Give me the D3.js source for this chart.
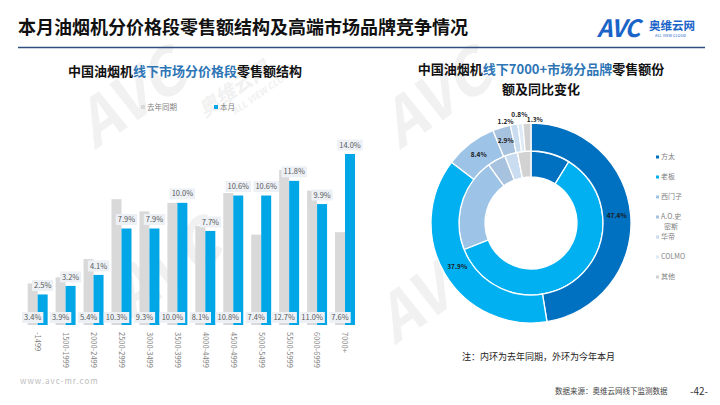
<!DOCTYPE html>
<html><head><meta charset="utf-8">
<script src="https://cdn.jsdelivr.net/npm/d3@7"></script>
<style>
body{margin:0;background:#fff}
svg{display:block;font-family:"Noto Sans CJK SC","Noto Sans",sans-serif}
</style>
</head><body>
<svg id="c" width="720" height="405"></svg>
<script>
const categories = ["-1499","1500-1999","2000-2499","2500-2999","3000-3499","3500-3999","4000-4499","4500-4999","5000-5499","5500-5999","6000-6999","7000+"];
const lastYear = [3.4,3.9,5.4,10.3,9.3,10.0,8.1,10.8,7.4,12.7,11.0,7.6];
const thisMonth = [2.5,3.2,4.1,7.9,7.9,10.0,7.7,10.6,10.6,11.8,9.9,14.0];
const seriesNames = ["去年同期","本月"];
const brands = ["方太","老板","西门子","A.O.史密斯","华帝","COLMO","其他"];
const outerShare = [47.4,37.9,8.4,2.9,1.2,0.8,1.3];
const innerShare = [8.8,60.2,21.0,4.1,2.9,0,3.0];

const svg = d3.select("#c");
const fmt = d3.format(".1f");

// watermarks
const wm = svg.append("g").attr("fill","#F1F1F1").style("font-style","italic").style("font-weight","bold");
[[95,150],[400,150],[395,345],[130,320]].forEach(p=>{
  wm.append("text").attr("transform",`translate(${p[0]},${p[1]}) rotate(-35)`).attr("font-size",62).text("AVC");
});
wm.append("text").attr("transform","translate(205,118) rotate(-35)").attr("font-size",20).text("奥维云网");
wm.append("text").attr("transform","translate(235,115) rotate(-35)").attr("font-size",9).text("ALL VIEW CLOUD");

// header
svg.append("text").attr("x",18).attr("y",34).attr("font-size",18).attr("font-weight","bold").attr("fill","#111")
  .text("本月油烟机分价格段零售额结构及高端市场品牌竞争情况");
svg.append("line").attr("x1",18).attr("x2",705).attr("y1",47.5).attr("y2",47.5).attr("stroke","#2F4F7F").attr("stroke-width",1.5);
// logo
svg.append("text").attr("x",597).attr("y",37).attr("font-size",24).attr("font-weight","bold").attr("fill","#1A64C8").style("font-style","italic").attr("letter-spacing",-1).text("AVC");
svg.append("text").attr("x",649).attr("y",30).attr("font-size",11.5).attr("font-weight","bold").attr("fill","#1A64C8").text("奥维云网");
svg.append("text").attr("x",655).attr("y",37).attr("font-size",4).attr("fill","#1A64C8").text("ALL VIEW CLOUD");

// left title
const lt = svg.append("text").attr("x",185).attr("y",76).attr("text-anchor","middle").attr("font-size",13).attr("font-weight","bold").attr("fill","#111");
lt.append("tspan").text("中国油烟机");
lt.append("tspan").attr("fill","#2E75B6").text("线下市场分价格段");
lt.append("tspan").text("零售额结构");

// legend left
const legColors = ["#D9D9D9","#00A6E6"];
const legX = d3.scaleOrdinal().domain(seriesNames).range([141,214]);
seriesNames.forEach((s,i)=>{
  svg.append("rect").attr("x",legX(s)).attr("y",105).attr("width",4).attr("height",4).attr("fill",legColors[i]);
  svg.append("text").attr("x",legX(s)+6).attr("y",110).attr("font-size",7.5).attr("fill","#7F7F7F").text(s);
});

// bars
const x0 = d3.scaleBand().domain(categories).range([23.7,359]).paddingInner(0.285).paddingOuter(0.1425);
const x1 = d3.scaleBand().domain(seriesNames).range([0,x0.bandwidth()]);
const y = d3.scaleLinear().domain([0,14]).range([325,154]);
const rows = categories.map((c,i)=>({c, v:[lastYear[i],thisMonth[i]]}));
const gB = svg.append("g");
rows.forEach(r=>{
  seriesNames.forEach((s,j)=>{
    gB.append("rect").attr("x",x0(r.c)+x1(s)).attr("y",y(r.v[j])).attr("width",x1.bandwidth()).attr("height",y(0)-y(r.v[j])).attr("fill",legColors[j]);
  });
});
function label(g,cx,cy,t){
  const tx = g.append("text").attr("x",cx).attr("y",cy).attr("dy","0.35em").attr("text-anchor","middle").attr("font-size",7.5).attr("fill","#595959").text(t);
  const w = tx.node().getComputedTextLength()+4;
  g.insert("rect","text:last-child").attr("x",cx-w/2).attr("y",cy-5.5).attr("width",w).attr("height",11).attr("fill","#EDF1F6");
}
const gL = svg.append("g");
rows.forEach(r=>{
  const g1 = gL.append("g");
  label(g1, x0(r.c)+x1(seriesNames[0])+x1.bandwidth()/2, y(0)-7.5, fmt(r.v[0])+"%");
  const g2 = gL.append("g");
  label(g2, x0(r.c)+x1(seriesNames[1])+x1.bandwidth()/2, y(r.v[1])-9, fmt(r.v[1])+"%");
});
const ax = svg.append("g").attr("transform",`translate(0,${y(0)+3})`).call(d3.axisBottom(x0).tickSize(0));
ax.select(".domain").remove();
ax.selectAll("text").attr("transform","rotate(90)").attr("x",4).attr("y",0).attr("dy","0.35em")
  .style("text-anchor","start").attr("font-size",7.5).attr("fill","#7F7F7F").attr("font-family","Noto Sans CJK SC");

// right title
const rt1 = svg.append("text").attr("x",541).attr("y",74).attr("text-anchor","middle").attr("font-size",13).attr("font-weight","bold").attr("fill","#111");
rt1.append("tspan").text("中国油烟机");
rt1.append("tspan").attr("fill","#2E75B6").text("线下7000+市场分品牌");
rt1.append("tspan").text("零售额份");
svg.append("text").attr("x",541).attr("y",94).attr("text-anchor","middle").attr("font-size",13).attr("font-weight","bold").attr("fill","#111").text("额及同比变化");

// donut
const cx=531, cy=223;
const dColors = ["#0070C0","#00B0F0","#9DC3E6","#A7C2DE","#C9DCF0","#DDE9F5","#D2D2D2"];
const pie = d3.pie().sort(null).value(d=>d);
const arcIn = d3.arc().innerRadius(46).outerRadius(72);
const arcOut = d3.arc().innerRadius(72).outerRadius(100);
const gD = svg.append("g").attr("transform",`translate(${cx},${cy})`);
gD.selectAll(".in").data(pie(innerShare)).join("path").attr("d",arcIn).attr("fill",(d,i)=>dColors[i]).attr("stroke","#fff").attr("stroke-width",1.3);
const outArcs = pie(outerShare);
gD.selectAll(".out").data(outArcs).join("path").attr("d",arcOut).attr("fill",(d,i)=>dColors[i]).attr("stroke","#fff").attr("stroke-width",1.3);
const smallPlace = {4:[103,"end"],5:[109,"middle"],6:[103,"start"]};
outArcs.forEach((d,i)=>{
  let p, anchor="middle";
  if (d.data>=2.5) p = d3.arc().innerRadius(86).outerRadius(86).centroid(d);
  else { const a=(d.startAngle+d.endAngle)/2, r=smallPlace[i][0]; anchor=smallPlace[i][1]; p=[r*Math.sin(a), -r*Math.cos(a)]; }
  gD.append("text").attr("x",p[0]).attr("y",p[1]).attr("dy","0.35em").attr("text-anchor",anchor)
    .attr("font-size",6.5).attr("font-weight","bold").attr("fill","#1a1a1a").text(fmt(d.data)+"%");
});

// right legend
const ly = d3.scalePoint().domain(brands).range([157,277]);
brands.forEach((b,i)=>{
  svg.append("rect").attr("x",656).attr("y",ly(b)-1.5).attr("width",3).attr("height",3).attr("fill",dColors[i]);
  if (b==="A.O.史密斯"){
    svg.append("text").attr("x",661).attr("y",ly(b)).attr("dy","0.25em").attr("font-size",7).attr("fill","#7F7F7F").text("A.O.史");
    svg.append("text").attr("x",664).attr("y",ly(b)).attr("dy","1.7em").attr("font-size",7).attr("fill","#7F7F7F").text("密斯");
  } else svg.append("text").attr("x",661).attr("y",ly(b)).attr("dy","0.35em").attr("font-size",7).attr("fill","#7F7F7F").text(b);
});

// footer
svg.append("text").attr("x",462).attr("y",360).attr("font-size",9).attr("fill","#222").text("注：内环为去年同期，外环为今年本月");
svg.append("text").attr("x",20).attr("y",384).attr("font-size",8).attr("fill","#BDBDBD").attr("letter-spacing",1).text("www.avc-mr.com");
svg.append("text").attr("x",555).attr("y",394).attr("font-size",7.5).attr("fill","#444").text("数据来源：奥维云网线下监测数据");
svg.append("text").attr("x",690).attr("y",395).attr("font-size",10).attr("fill","#333").text("-42-");
</script>
</body></html>
